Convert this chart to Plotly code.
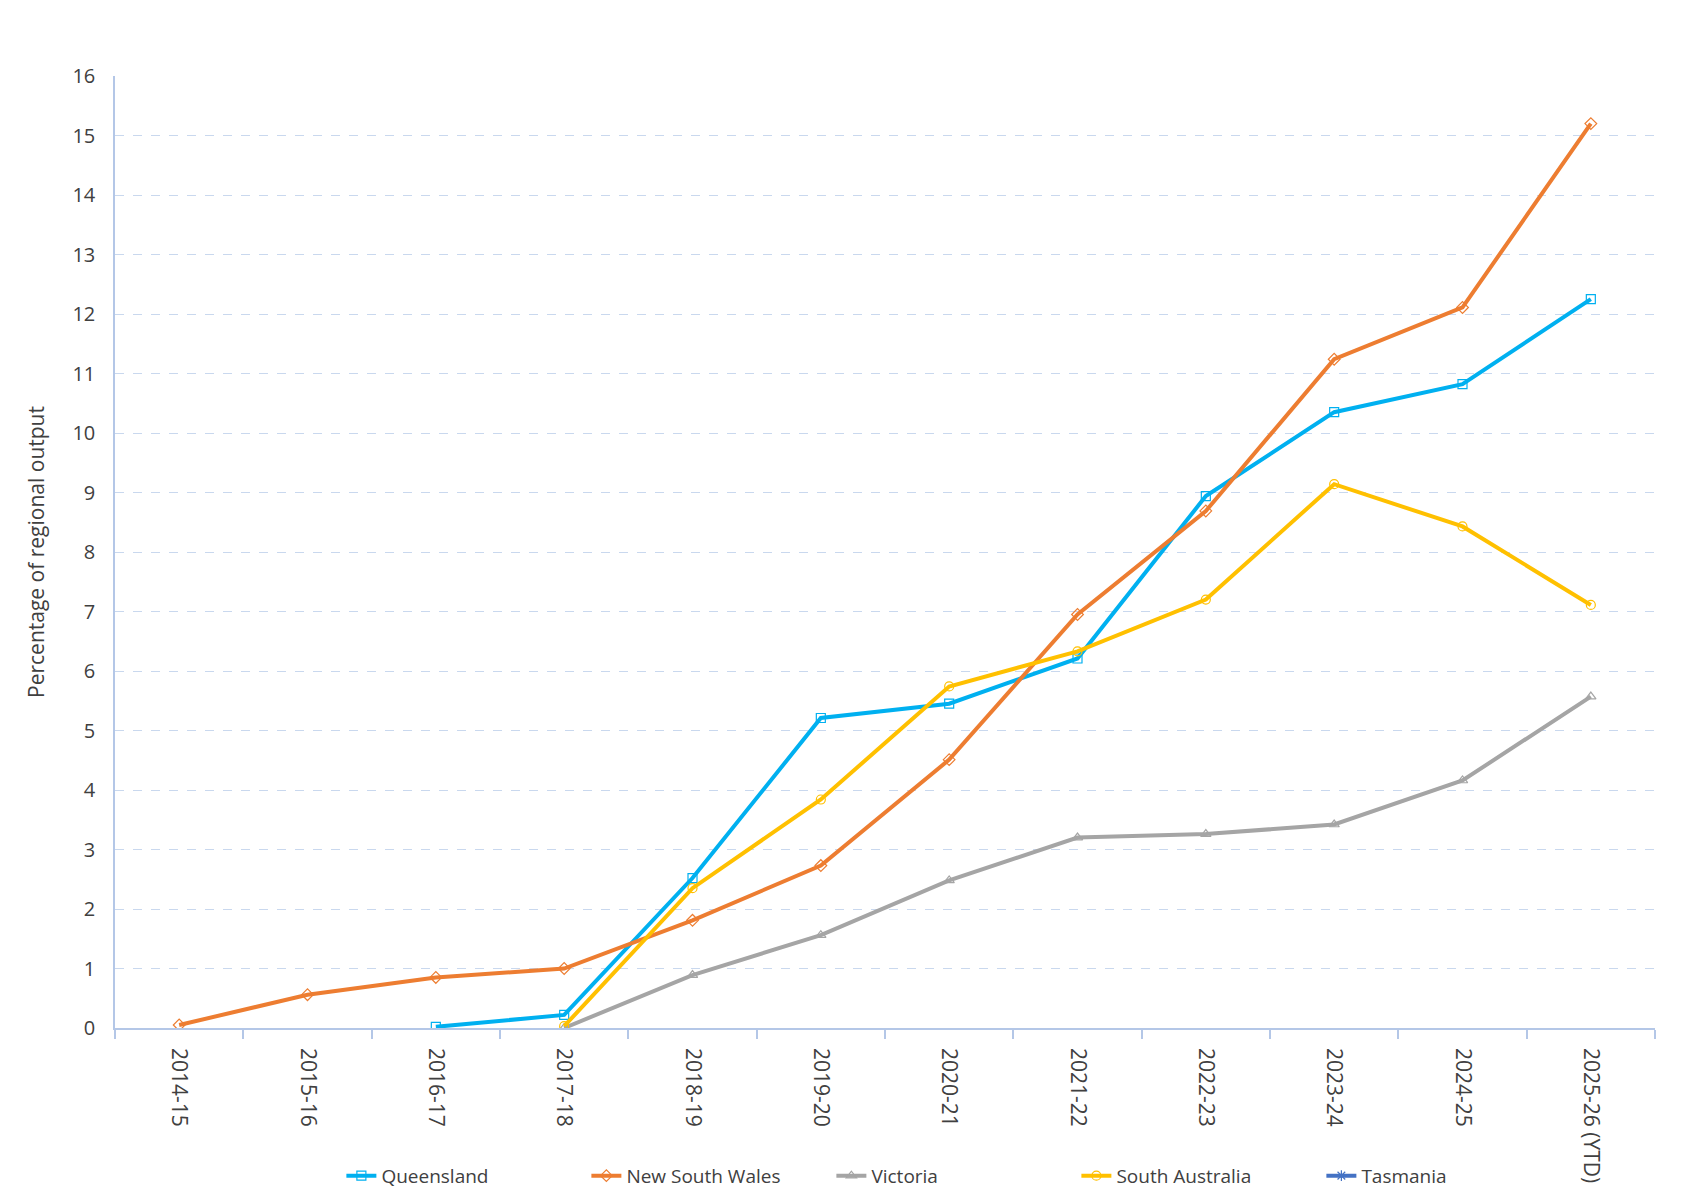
import plotly.graph_objects as go

categories = ["2014-15", "2015-16", "2016-17", "2017-18", "2018-19", "2019-20",
              "2020-21", "2021-22", "2022-23", "2023-24", "2024-25", "2025-26 (YTD)"]

queensland = [None, None, 0.02, 0.22, 2.52, 5.21, 5.45, 6.21, 8.94, 10.35, 10.82, 12.25]
new_south_wales = [0.05, 0.56, 0.85, 1.0, 1.81, 2.73, 4.51, 6.95, 8.69, 11.24, 12.11, 15.2]
victoria = [None, None, None, 0.0, 0.89, 1.56, 2.48, 3.2, 3.26, 3.42, 4.16, 5.57]
south_australia = [None, None, None, 0.03, 2.35, 3.84, 5.74, 6.33, 7.2, 9.14, 8.43, 7.11]
tasmania = [None] * 12

series = [
    ("Queensland", queensland, "#00B0F0", "square-open"),
    ("New South Wales", new_south_wales, "#ED7D31", "diamond-open"),
    ("Victoria", victoria, "#A5A5A5", "triangle-up-open"),
    ("South Australia", south_australia, "#FFC000", "circle-open"),
    ("Tasmania", tasmania, "#4472C4", "asterisk-open"),
]

fig = go.Figure()
for name, vals, color, sym in series:
    fig.add_trace(go.Scatter(
        x=categories, y=vals, name=name, mode="lines+markers",
        line=dict(color=color, width=4),
        marker=dict(symbol=sym, size=9, color=color, line=dict(color=color, width=1.2)),
        connectgaps=False,
    ))

font = "Open Sans, Noto Sans, sans-serif"
fig.update_layout(
    width=1687, height=1201,
    margin=dict(l=115, r=32, t=76, b=173, autoexpand=False),
    paper_bgcolor="white", plot_bgcolor="white",
    font=dict(family=font, size=19, color="#404040"),
    showlegend=True,
    legend=dict(orientation="h", x=0.147, xanchor="left",
                yref="container", y=0.021, yanchor="middle",
                entrywidth=200, entrywidthmode="pixels", itemwidth=30,
                font=dict(size=19, color="#404040")),
    xaxis=dict(type="category", tickson="boundaries", tickangle=90, automargin=False,
               showline=True, linecolor="#B4C7E7", linewidth=1.5,
               ticks="outside", ticklen=9, tickcolor="#B4C7E7", tickwidth=1.5,
               ticklabelstandoff=14,
               showgrid=False, tickfont=dict(size=21, color="#404040"),
               range=[-0.5, 11.5]),
    yaxis=dict(range=[0, 16], dtick=1, showline=True, linecolor="#B4C7E7", linewidth=1.5,
               automargin=False,
               showgrid=True, gridcolor="#C9D8EE", griddash="dash", gridwidth=1,
               zeroline=False, ticks="", tickfont=dict(size=20, color="#404040"),
               ticklabelstandoff=14,
               title=dict(text="Percentage of regional output", font=dict(size=21, color="#404040"),
                          standoff=22)),
)

fig.write_html("out.html")
